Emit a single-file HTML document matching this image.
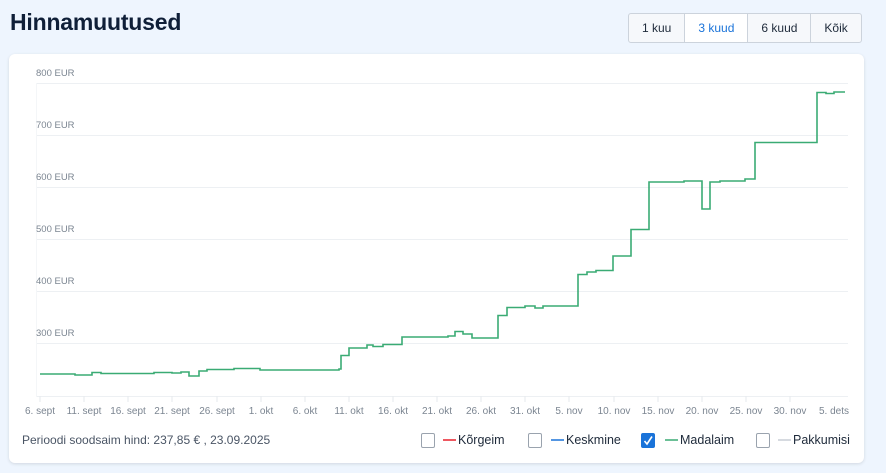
<!DOCTYPE html>
<html><head><meta charset="utf-8"><style>
body{margin:0;width:886px;height:473px;background:#eef5fe;font-family:"Liberation Sans",sans-serif;position:relative;overflow:hidden}
h1{position:absolute;left:10px;top:9px;margin:0;font-size:23px;font-weight:bold;color:#0f1f38;letter-spacing:-0.2px}
.btns{position:absolute;left:628px;top:13px;height:28px;display:flex;border:1px solid #ccd3dc;border-radius:3px;background:#f6f8fb;font-size:12px;color:#1e2a3a}
.btns div{padding:0 13px;line-height:28px;border-left:1px solid #ccd3dc}
.btns div:first-child{border-left:none}
.btns .a{color:#1a73d9;background:#fff}
.card{position:absolute;left:9px;top:54px;width:855px;height:409px;background:#fff;border-radius:6px;box-shadow:0 1px 3px rgba(0,0,0,0.12)}
svg{position:absolute;left:0;top:0}
.foot{position:absolute;top:433px;font-size:12px;color:#4a5565}
.cb{position:absolute;top:433px;width:12px;height:13px;border:1.5px solid #9aa3ae;border-radius:2px;background:#fff}
</style></head><body>
<h1>Hinnamuutused</h1>
<div class="btns"><div>1 kuu</div><div class="a">3 kuud</div><div>6 kuud</div><div>Kõik</div></div>
<div class="card"></div>
<svg width="886" height="473" font-family="Liberation Sans, sans-serif">
<g stroke="#edf0f3" stroke-width="1">
<line x1="36" x2="848" y1="83.5" y2="83.5"/><line x1="36" x2="848" y1="135.5" y2="135.5"/>
<line x1="36" x2="848" y1="187.5" y2="187.5"/><line x1="36" x2="848" y1="239.5" y2="239.5"/>
<line x1="36" x2="848" y1="291.5" y2="291.5"/><line x1="36" x2="848" y1="343.5" y2="343.5"/>
<line x1="36" x2="848" y1="396.5" y2="396.5"/><line x1="36.5" x2="36.5" y1="83" y2="397" stroke="#f4f6f8"/>
<g stroke="#e6eaee"><line x1="40" x2="40" y1="396" y2="402"/><line x1="84" x2="84" y1="396" y2="402"/><line x1="128" x2="128" y1="396" y2="402"/><line x1="172" x2="172" y1="396" y2="402"/><line x1="217" x2="217" y1="396" y2="402"/><line x1="261" x2="261" y1="396" y2="402"/><line x1="305" x2="305" y1="396" y2="402"/><line x1="349" x2="349" y1="396" y2="402"/><line x1="393" x2="393" y1="396" y2="402"/><line x1="437" x2="437" y1="396" y2="402"/><line x1="481" x2="481" y1="396" y2="402"/><line x1="525" x2="525" y1="396" y2="402"/><line x1="569" x2="569" y1="396" y2="402"/><line x1="614" x2="614" y1="396" y2="402"/><line x1="658" x2="658" y1="396" y2="402"/><line x1="702" x2="702" y1="396" y2="402"/><line x1="746" x2="746" y1="396" y2="402"/><line x1="790" x2="790" y1="396" y2="402"/></g>
</g>
<g fill="#7b8591" font-size="9.5">
<text x="36" y="76">800 EUR</text><text x="36" y="128">700 EUR</text><text x="36" y="180">600 EUR</text>
<text x="36" y="232">500 EUR</text><text x="36" y="284">400 EUR</text><text x="36" y="336">300 EUR</text>
</g>
<g fill="#7b8591" font-size="10" text-anchor="middle">
<text x="40" y="414">6. sept</text><text x="84" y="414">11. sept</text><text x="128" y="414">16. sept</text><text x="172" y="414">21. sept</text><text x="217" y="414">26. sept</text><text x="261" y="414">1. okt</text><text x="305" y="414">6. okt</text><text x="349" y="414">11. okt</text><text x="393" y="414">16. okt</text><text x="437" y="414">21. okt</text><text x="481" y="414">26. okt</text><text x="525" y="414">31. okt</text><text x="569" y="414">5. nov</text><text x="614" y="414">10. nov</text><text x="658" y="414">15. nov</text><text x="702" y="414">20. nov</text><text x="746" y="414">25. nov</text><text x="790" y="414">30. nov</text><text x="834" y="414">5. dets</text>
</g>
<polyline fill="none" stroke="#3aab74" stroke-width="1.6" points="40,374 75,374 75,375 92,375 92,372.5 101,372.5 101,373.5 154,373.5 154,372.5 172,372.5 172,373 181,373 181,372 189,372 189,376 199,376 199,371 207,371 207,369.5 234,369.5 234,368.5 260,368.5 260,370 339,370 339,369 341,369 341,355.5 349,355.5 349,348 367,348 367,345 373,345 373,346.5 383,346.5 383,344.5 402,344.5 402,337 448,337 448,336 455,336 455,331.5 463,331.5 463,334 472,334 472,338 498,338 498,315.5 507,315.5 507,307.5 525,307.5 525,306 535,306 535,308 543,308 543,306 578,306 578,274.5 587,274.5 587,272 596,272 596,270.5 613,270.5 613,256 631,256 631,229.5 649,229.5 649,182 684,182 684,181 702,181 702,209 710,209 710,182 720,182 720,181 745,181 745,179 755,179 755,142.5 817,142.5 817,92.5 826,92.5 826,93.5 834,93.5 834,92 845,92"/>
<line x1="443" x2="456" y1="440" y2="440" stroke="#e8202a" stroke-width="1.5"/>
<line x1="551" x2="564" y1="440" y2="440" stroke="#1a73d9" stroke-width="1.5"/>
<line x1="665" x2="678" y1="440" y2="440" stroke="#3aab74" stroke-width="1.5"/>
<line x1="778" x2="791" y1="440" y2="440" stroke="#c9ced5" stroke-width="1.5"/>
<g font-size="12.5" fill="#1e2a3a">
<text x="458" y="444">Kõrgeim</text><text x="566" y="444">Keskmine</text><text x="680" y="444">Madalaim</text><text x="793" y="444">Pakkumisi</text>
</g>
</svg>
<div class="foot" style="left:22px">Perioodi soodsaim hind: 237,85 € , 23.09.2025</div>
<div class="cb" style="left:421px"></div>
<div class="cb" style="left:528px"></div>
<div class="cb" style="left:641px;background:#1a73d9;border-color:#1a73d9"><svg width="12" height="13" style="position:absolute;left:0;top:0"><polyline points="2.5,7 5,10 10,2.5" fill="none" stroke="#fff" stroke-width="1.6"/></svg></div>
<div class="cb" style="left:756px"></div>
</body></html>
